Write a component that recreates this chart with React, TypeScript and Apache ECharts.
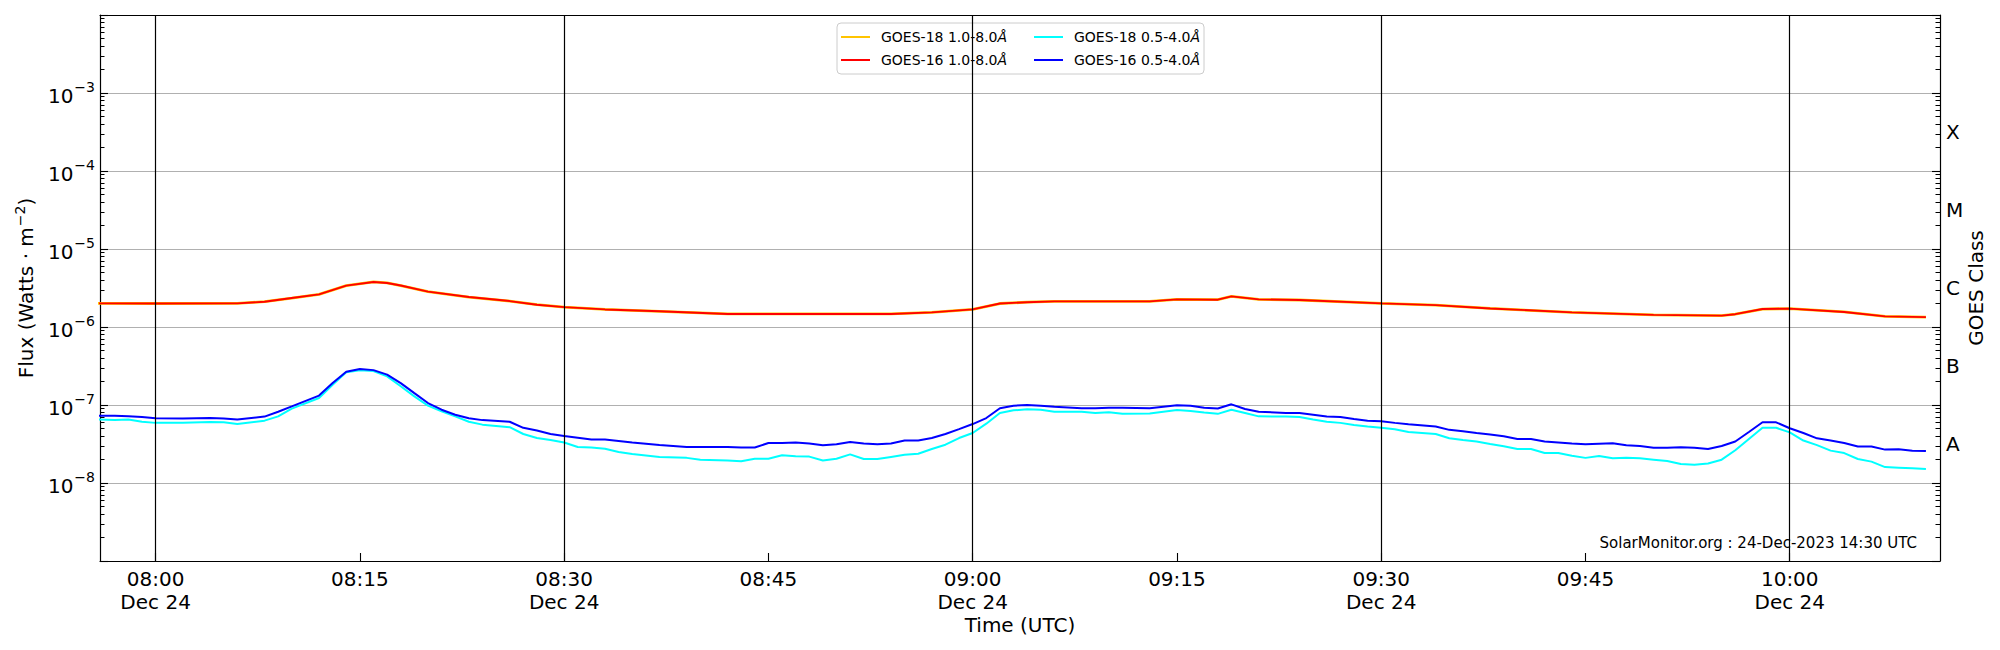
import React, { useEffect, useRef } from "react";
import * as echarts from "echarts";

const FONT = "DejaVu Sans";

// GOES XRS long channel (1.0-8.0 Å)
const LONG_TIMES = [
  "07:55", "08:00", "08:06", "08:08", "08:10", "08:12", "08:14", "08:16", "08:17", "08:18",
  "08:20", "08:23", "08:26", "08:28", "08:30", "08:33", "08:37", "08:42", "08:48", "08:54",
  "08:57", "09:00", "09:02", "09:04", "09:06", "09:13", "09:15", "09:18", "09:19", "09:21",
  "09:24", "09:30", "09:34", "09:38", "09:44", "09:50", "09:55", "09:56", "09:58", "10:00",
  "10:04", "10:07", "10:10",
];
const GOES16_LONG = [
  2.01e-6, 2.0e-6, 2.01e-6, 2.11e-6, 2.35e-6, 2.62e-6, 3.39e-6, 3.78e-6, 3.67e-6, 3.4e-6,
  2.84e-6, 2.42e-6, 2.15e-6, 1.93e-6, 1.8e-6, 1.68e-6, 1.59e-6, 1.47e-6, 1.47e-6, 1.47e-6,
  1.54e-6, 1.68e-6, 2.0e-6, 2.08e-6, 2.13e-6, 2.13e-6, 2.26e-6, 2.24e-6, 2.47e-6, 2.26e-6,
  2.22e-6, 2.01e-6, 1.91e-6, 1.73e-6, 1.54e-6, 1.43e-6, 1.4e-6, 1.46e-6, 1.7e-6, 1.72e-6,
  1.56e-6, 1.37e-6, 1.34e-6,
];
const GOES18_LONG = [
  2.01e-6, 2.0e-6, 2.01e-6, 2.11e-6, 2.35e-6, 2.62e-6, 3.39e-6, 3.78e-6, 3.67e-6, 3.4e-6,
  2.84e-6, 2.42e-6, 2.15e-6, 1.93e-6, 1.8e-6, 1.68e-6, 1.59e-6, 1.47e-6, 1.47e-6, 1.47e-6,
  1.54e-6, 1.68e-6, 2.0e-6, 2.08e-6, 2.13e-6, 2.13e-6, 2.26e-6, 2.24e-6, 2.47e-6, 2.26e-6,
  2.22e-6, 2.01e-6, 1.91e-6, 1.73e-6, 1.54e-6, 1.43e-6, 1.4e-6, 1.46e-6, 1.7e-6, 1.72e-6,
  1.56e-6, 1.37e-6, 1.34e-6,
];

// GOES XRS short channel (0.5-4.0 Å)
const SHORT_TIMES = [
  "07:55", "07:57", "07:58", "07:59", "08:00", "08:02", "08:04", "08:05", "08:06", "08:08",
  "08:09", "08:10", "08:12", "08:13", "08:14", "08:15", "08:16", "08:17", "08:18", "08:19",
  "08:20", "08:21", "08:22", "08:23", "08:24", "08:26", "08:27", "08:28", "08:29", "08:30",
  "08:31", "08:32", "08:33", "08:34", "08:35", "08:37", "08:39", "08:40", "08:42", "08:43",
  "08:44", "08:45", "08:46", "08:47", "08:48", "08:49", "08:50", "08:51", "08:52", "08:53",
  "08:54", "08:55", "08:56", "08:57", "08:58", "08:59", "09:00", "09:01", "09:02", "09:03",
  "09:04", "09:05", "09:06", "09:08", "09:09", "09:10", "09:11", "09:13", "09:15", "09:16",
  "09:17", "09:18", "09:19", "09:20", "09:21", "09:23", "09:24", "09:25", "09:26", "09:27",
  "09:28", "09:29", "09:30", "09:31", "09:32", "09:34", "09:35", "09:36", "09:37", "09:38",
  "09:39", "09:40", "09:41", "09:42", "09:43", "09:44", "09:45", "09:46", "09:47", "09:48",
  "09:49", "09:50", "09:51", "09:52", "09:53", "09:54", "09:55", "09:56", "09:57", "09:58",
  "09:59", "10:00", "10:01", "10:02", "10:03", "10:04", "10:05", "10:06", "10:07", "10:08",
  "10:09", "10:10",
];
const GOES16_SHORT = [
  7.3e-8, 7.3e-8, 7.2e-8, 7.0e-8, 6.75e-8, 6.7e-8, 6.8e-8, 6.7e-8, 6.5e-8, 7.1e-8,
  8.2e-8, 9.6e-8, 1.32e-7, 1.91e-7, 2.67e-7, 2.9e-7, 2.8e-7, 2.45e-7, 1.91e-7, 1.42e-7,
  1.06e-7, 8.7e-8, 7.5e-8, 6.75e-8, 6.4e-8, 6.1e-8, 5.1e-8, 4.7e-8, 4.25e-8, 4.0e-8,
  3.8e-8, 3.6e-8, 3.6e-8, 3.45e-8, 3.3e-8, 3.07e-8, 2.9e-8, 2.9e-8, 2.9e-8, 2.85e-8,
  2.85e-8, 3.25e-8, 3.25e-8, 3.3e-8, 3.2e-8, 3.04e-8, 3.13e-8, 3.36e-8, 3.2e-8, 3.13e-8,
  3.2e-8, 3.5e-8, 3.5e-8, 3.77e-8, 4.25e-8, 4.9e-8, 5.7e-8, 6.8e-8, 9.1e-8, 9.8e-8,
  1.0e-7, 9.8e-8, 9.5e-8, 9.1e-8, 9.1e-8, 9.2e-8, 9.2e-8, 9.1e-8, 9.9e-8, 9.8e-8,
  9.2e-8, 9.0e-8, 1.02e-7, 8.9e-8, 8.2e-8, 7.9e-8, 7.9e-8, 7.5e-8, 7.1e-8, 7.0e-8,
  6.6e-8, 6.3e-8, 6.2e-8, 5.9e-8, 5.65e-8, 5.3e-8, 4.8e-8, 4.6e-8, 4.37e-8, 4.2e-8,
  3.97e-8, 3.67e-8, 3.67e-8, 3.4e-8, 3.3e-8, 3.2e-8, 3.13e-8, 3.18e-8, 3.23e-8, 3.04e-8,
  2.98e-8, 2.84e-8, 2.84e-8, 2.87e-8, 2.84e-8, 2.73e-8, 2.98e-8, 3.4e-8, 4.5e-8, 6.0e-8,
  6.0e-8, 5.03e-8, 4.37e-8, 3.74e-8, 3.5e-8, 3.26e-8, 2.94e-8, 2.94e-8, 2.68e-8, 2.71e-8,
  2.6e-8, 2.57e-8,
];
const GOES18_SHORT = [
  6.6e-8, 6.4e-8, 6.5e-8, 6.1e-8, 5.9e-8, 5.9e-8, 6.05e-8, 6.0e-8, 5.7e-8, 6.3e-8,
  7.15e-8, 8.97e-8, 1.23e-7, 1.82e-7, 2.62e-7, 2.78e-7, 2.73e-7, 2.33e-7, 1.74e-7, 1.29e-7,
  9.8e-8, 8.3e-8, 7.15e-8, 6.1e-8, 5.6e-8, 5.2e-8, 4.25e-8, 3.77e-8, 3.55e-8, 3.3e-8,
  2.9e-8, 2.85e-8, 2.75e-8, 2.5e-8, 2.35e-8, 2.16e-8, 2.1e-8, 1.98e-8, 1.95e-8, 1.9e-8,
  2.05e-8, 2.05e-8, 2.27e-8, 2.2e-8, 2.18e-8, 1.94e-8, 2.05e-8, 2.33e-8, 2.03e-8, 2.03e-8,
  2.16e-8, 2.3e-8, 2.37e-8, 2.73e-8, 3.1e-8, 3.77e-8, 4.37e-8, 5.76e-8, 7.9e-8, 8.55e-8,
  8.8e-8, 8.7e-8, 8.2e-8, 8.2e-8, 7.9e-8, 8.05e-8, 7.7e-8, 7.8e-8, 8.6e-8, 8.4e-8,
  8.0e-8, 7.7e-8, 8.7e-8, 7.9e-8, 7.15e-8, 7.1e-8, 7.0e-8, 6.5e-8, 6.1e-8, 5.9e-8,
  5.55e-8, 5.3e-8, 5.1e-8, 4.9e-8, 4.5e-8, 4.25e-8, 3.74e-8, 3.56e-8, 3.4e-8, 3.16e-8,
  2.96e-8, 2.73e-8, 2.73e-8, 2.42e-8, 2.42e-8, 2.24e-8, 2.1e-8, 2.22e-8, 2.07e-8, 2.1e-8,
  2.07e-8, 1.99e-8, 1.91e-8, 1.75e-8, 1.71e-8, 1.78e-8, 1.99e-8, 2.63e-8, 3.67e-8, 5.1e-8,
  5.1e-8, 4.45e-8, 3.5e-8, 3.06e-8, 2.6e-8, 2.42e-8, 2.03e-8, 1.88e-8, 1.6e-8, 1.57e-8,
  1.54e-8, 1.51e-8,
];

const X_TICKS = ["08:00", "08:15", "08:30", "08:45", "09:00", "09:15", "09:30", "09:45", "10:00"];
const DAY_LINES = ["08:00", "08:30", "09:00", "09:30", "10:00"];
const DATE_LABEL = "Dec 24";
const X_START = "07:55:55";
const X_END = "10:11:02";
const Y_MIN_EXP = -9;
const Y_MAX_EXP = -2;
const Y_LABEL_EXP = [-8, -7, -6, -5, -4, -3];
const CLASS_LABELS = ["A", "B", "C", "M", "X"];
const WATERMARK = "SolarMonitor.org : 24-Dec-2023 14:30 UTC";

const NAME_G18_LONG = "GOES-18 1.0-8.0Å";
const NAME_G16_LONG = "GOES-16 1.0-8.0Å";
const NAME_G18_SHORT = "GOES-18 0.5-4.0Å";
const NAME_G16_SHORT = "GOES-16 0.5-4.0Å";

// minutes relative to 08:00
function toMin(t: string): number {
  const p = t.split(":").map(Number);
  return p[0] * 60 + p[1] + (p[2] || 0) / 60 - 480;
}
function fmtMin(v: number): string {
  const tot = Math.round(v + 480);
  const h = Math.floor(tot / 60);
  const m = tot % 60;
  return String(h).padStart(2, "0") + ":" + String(m).padStart(2, "0");
}
function pairs(times: string[], vals: number[]) {
  return times.map((t, i) => [toMin(t), vals[i]]);
}

// minor tick positions (in log10 space) for the log decades
const minorExp: number[] = [];
for (let e = Y_MIN_EXP; e < Y_MAX_EXP; e++) {
  for (let k = 2; k <= 9; k++) minorExp.push(e + Math.log10(k));
}

export default function App() {
  const ref = useRef<HTMLDivElement>(null);
  useEffect(() => {
    document.body.style.margin = "0";
    if (!ref.current) return;
    const chart = echarts.init(ref.current, null, { renderer: "svg" });
    const black = "#000000";
    const lineAxis = { show: true, onZero: false, lineStyle: { color: black, width: 1.2 } };
    const noLine = { show: false, onZero: false };
    const xMin = toMin(X_START);
    const xMax = toMin(X_END);
    const expAxis = {
      type: "value",
      min: Y_MIN_EXP,
      max: Y_MAX_EXP,
      gridIndex: 0,
      offset: 0,
      axisLine: noLine,
      splitLine: { show: false },
      axisLabel: { show: false },
    };
    const majorTick = {
      show: true,
      inside: true,
      length: 8,
      lineStyle: { color: black, width: 1.1 },
    };
    const minorTick = {
      show: true,
      inside: true,
      length: 4.5,
      customValues: minorExp,
      lineStyle: { color: black, width: 1 },
    };
    const legendCommon = {
      orient: "vertical",
      top: 29,
      itemWidth: 29,
      itemHeight: 2,
      itemGap: 7,
      icon: "rect",
      selectedMode: false,
      textStyle: {
        fontFamily: FONT,
        fontSize: 14,
        color: black,
        lineHeight: 16,
        padding: [0, 0, 0, 6],
        rich: { i: { fontFamily: FONT, fontSize: 14, fontStyle: "italic", color: black } },
      },
      formatter: (n: string) => n.replace("Å", "{i|Å}"),
      padding: 0,
    };
    const option: any = {
      animation: false,
      backgroundColor: "#ffffff",
      textStyle: { fontFamily: FONT },
      grid: { left: 100, right: 60, top: 15, bottom: 89, containLabel: false },
      legend: [
        { ...legendCommon, left: 841, data: [NAME_G18_LONG, NAME_G16_LONG] },
        { ...legendCommon, left: 1034, data: [NAME_G18_SHORT, NAME_G16_SHORT] },
      ],
      xAxis: [
        {
          type: "value",
          min: xMin,
          max: xMax,
          position: "bottom",
          axisLine: lineAxis,
          splitLine: { show: false },
          axisTick: { ...majorTick, customValues: X_TICKS.map(toMin) },
          axisLabel: {
            customValues: X_TICKS.map(toMin),
            margin: 6,
            fontFamily: FONT,
            fontSize: 20,
            lineHeight: 23,
            color: black,
            formatter: (v: number) => {
              const s = fmtMin(v);
              return DAY_LINES.indexOf(s) >= 0 ? s + "\n" + DATE_LABEL : s;
            },
          },
          name: "Time (UTC)",
          nameLocation: "middle",
          nameGap: 54,
          nameMoveOverlap: false,
          nameTextStyle: { fontFamily: FONT, fontSize: 20, color: black },
        },
        {
          type: "value",
          min: xMin,
          max: xMax,
          position: "top",
          axisLine: lineAxis,
          axisTick: { show: false },
          axisLabel: { show: false },
          splitLine: { show: false },
        },
      ],
      yAxis: [
        {
          // data axis (log scale)
          type: "log",
          logBase: 10,
          min: Math.pow(10, Y_MIN_EXP),
          max: Math.pow(10, Y_MAX_EXP),
          position: "left",
          axisLine: lineAxis,
          axisTick: { show: false },
          axisLabel: { show: false },
          splitLine: { show: false },
        },
        {
          // decade ticks, labels and grid lines
          ...expAxis,
          position: "left",
          interval: 1,
          axisTick: majorTick,
          splitLine: { show: true, lineStyle: { color: "#b0b0b0", width: 1.1 } },
          axisLabel: {
            show: true,
            margin: 5,
            formatter: (v: number) => {
              if (Y_LABEL_EXP.indexOf(Math.round(v)) < 0) return "";
              return "{b|10}{s|−" + Math.abs(Math.round(v)) + "}";
            },
            rich: {
              b: { fontFamily: FONT, fontSize: 20, color: black, verticalAlign: "bottom" },
              s: {
                fontFamily: FONT,
                fontSize: 14,
                color: black,
                verticalAlign: "bottom",
                padding: [0, 0, 12, 1],
              },
            },
          },
          name: "Flux (Watts · m{s|−2})",
          nameLocation: "middle",
          nameRotate: 90,
          nameGap: 62,
          nameTextStyle: {
            fontFamily: FONT,
            fontSize: 20,
            color: black,
            rich: {
              s: {
                fontFamily: FONT,
                fontSize: 14,
                color: black,
                verticalAlign: "bottom",
                padding: [0, 0, 11, 1],
              },
            },
          },
        },
        {
          ...expAxis,
          position: "left",
          axisTick: minorTick,
        },
        {
          // GOES class axis
          ...expAxis,
          position: "right",
          interval: 1,
          axisLine: lineAxis,
          axisTick: majorTick,
          axisLabel: {
            show: true,
            customValues: CLASS_LABELS.map((_, i) => -7.5 + i),
            margin: 6,
            fontFamily: FONT,
            fontSize: 20,
            color: black,
            formatter: (v: number) => CLASS_LABELS[Math.round(v + 7.5)] || "",
          },
          name: "GOES Class",
          nameLocation: "middle",
          nameRotate: 90,
          nameGap: 26,
          nameMoveOverlap: false,
          nameTextStyle: { fontFamily: FONT, fontSize: 20, color: black },
        },
        {
          ...expAxis,
          position: "right",
          axisTick: minorTick,
        },
      ],
      graphic: [
        {
          type: "rect",
          z: 1,
          shape: { x: 837, y: 23, width: 367, height: 51, r: 4 },
          style: { fill: "rgba(255,255,255,0.8)", stroke: "#cccccc", lineWidth: 1 },
          silent: true,
        },
        {
          type: "text",
          z: 10,
          x: 1917,
          y: 543,
          style: {
            text: WATERMARK,
            fontFamily: FONT,
            fontSize: 15,
            fill: black,
            align: "right",
            verticalAlign: "middle",
          },
          silent: true,
        },
      ],
      series: [
        {
          type: "line",
          name: NAME_G18_LONG,
          data: pairs(LONG_TIMES, GOES18_LONG),
          symbol: "none",
          color: "#ffc400",
          lineStyle: { color: "#ffc400", width: 2.8 },
          z: 2,
        },
        {
          type: "line",
          name: NAME_G18_SHORT,
          data: pairs(SHORT_TIMES, GOES18_SHORT),
          symbol: "none",
          color: "#00ffff",
          lineStyle: { color: "#00ffff", width: 2 },
          z: 2,
        },
        {
          type: "line",
          name: NAME_G16_LONG,
          data: pairs(LONG_TIMES, GOES16_LONG),
          symbol: "none",
          color: "#ff0000",
          lineStyle: { color: "#ff0000", width: 1.9 },
          z: 3,
        },
        {
          type: "line",
          name: NAME_G16_SHORT,
          data: pairs(SHORT_TIMES, GOES16_SHORT),
          symbol: "none",
          color: "#0000ff",
          lineStyle: { color: "#0000ff", width: 2 },
          z: 3,
          markLine: {
            silent: true,
            symbol: ["none", "none"],
            label: { show: false },
            emphasis: { disabled: true },
            lineStyle: { color: black, type: "solid", width: 1.2 },
            data: DAY_LINES.map((t) => ({ xAxis: toMin(t) })),
          },
        },
      ],
    };
    chart.setOption(option);
    return () => chart.dispose();
  }, []);
  return <div ref={ref} style={{ width: 2000, height: 650 }} />;
}
